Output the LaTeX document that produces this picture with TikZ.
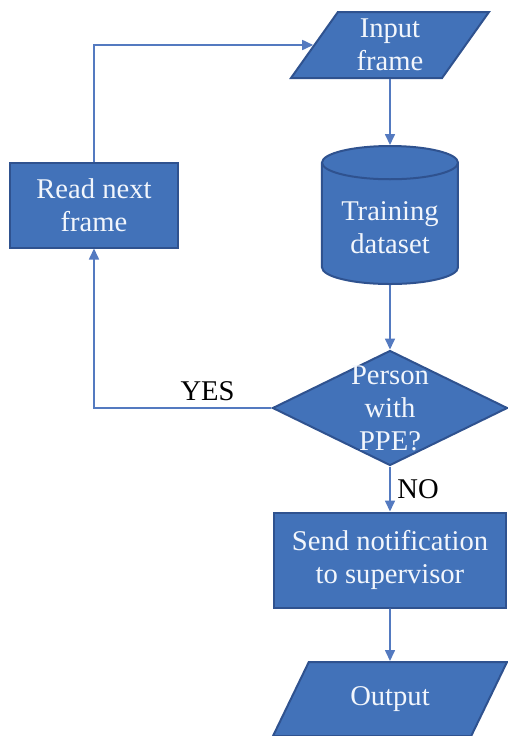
\documentclass[tikz,border=0pt]{standalone}
\usepackage{fontspec}
\setmainfont{Liberation Serif}
\usetikzlibrary{shapes.geometric,arrows.meta}
\definecolor{boxblue}{RGB}{66,114,185}
\definecolor{edgeblue}{RGB}{47,82,143}
\definecolor{endblue}{RGB}{143,170,220}
\definecolor{lineblue}{RGB}{84,122,192}
\definecolor{txtwhite}{RGB}{242,246,252}

\begin{document}
\begin{tikzpicture}[x=0.5pt,y=-0.5pt,
  font=\fontsize{14.3}{16.5}\selectfont,
  blockbox/.style={draw=edgeblue,line width=1pt,fill=boxblue,text=txtwhite,align=center},
  iobox/.style={blockbox,trapezium,trapezium stretches=true,inner sep=0pt},
  flow/.style={draw=lineblue,line width=0.8pt,-{Triangle[width=5pt,length=5.5pt]}}]

\useasboundingbox (0,0) rectangle (508,736);

\node[iobox,trapezium left angle=60,trapezium right angle=120,
  minimum width=99.5pt,minimum height=33pt] (input) at (390,45) {Input\\frame};

\node[blockbox,cylinder,shape border rotate=90,aspect=0.3,anchor=shape center,
  minimum width=68pt,minimum height=69pt,
  cylinder uses custom fill,cylinder body fill=boxblue,cylinder end fill=endblue]
  (dataset) at (390,215) {Training\\dataset};

\node[blockbox,diamond,inner sep=0pt,minimum width=117.5pt,minimum height=57.5pt,
  label={[text=txtwhite,align=center]center:Person\\with\\PPE?}] (ppe) at (390,408) {};

\node[blockbox,rectangle,minimum width=116pt,minimum height=47.5pt] (notify) at (390,560)
  {Send notification\\to supervisor};

\node[iobox,trapezium left angle=55,trapezium right angle=125,
  minimum width=117.5pt,minimum height=37pt] (output) at (390,699) {Output};

\node[blockbox,rectangle,minimum width=84pt,minimum height=42.5pt] (readnext) at (94,205)
  {Read next\\frame};

\draw[flow] (input.south) -- (dataset.north);
\draw[flow] (dataset.south) -- (ppe.north);
\draw[flow] (ppe.west) -| node[pos=0.18,above] {YES} (readnext.south);
\draw[flow] (readnext.north) |- (input.west);
\draw[flow] (ppe.south) -- node[right] {NO} (notify.north);
\draw[flow] (notify.south) -- (output.north);

\end{tikzpicture}
\end{document}
